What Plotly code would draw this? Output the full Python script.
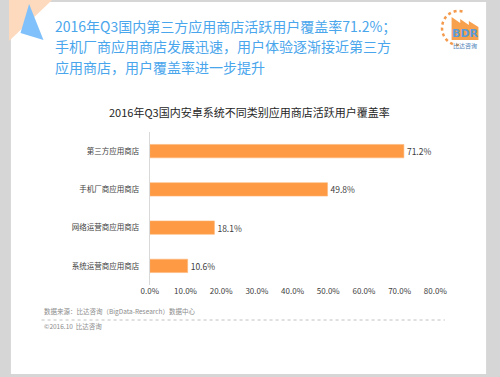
import numpy as np
import plotly.graph_objects as go

# ---- data ----
categories = ["第三方应用商店", "手机厂商应用商店", "网络运营商应用商店", "系统运营商应用商店"]
coverage = [71.2, 49.8, 18.1, 10.6]
tick_vals = [0, 10, 20, 30, 40, 50, 60, 70, 80]
tick_text = ["0.0%", "10.0%", "20.0%", "30.0%", "40.0%", "50.0%", "60.0%", "70.0%", "80.0%"]
value_labels = [f"{v:.1f}%" for v in coverage]

W, H = 500, 377
FONT = "Noto Sans CJK SC"


def px(x):
    return x / W


def py(y):
    return 1 - y / H


fig = go.Figure()
fig.add_trace(go.Bar(
    x=coverage, y=categories, orientation="h",
    marker=dict(color="#fd9a43", line=dict(color="#fdb77a", width=0.6)),
    width=0.35,
    text=value_labels, textposition="outside",
    textfont=dict(size=8.5, color="#404040", family=FONT),
    cliponaxis=False, hoverinfo="skip",
))

shapes = []
# outer frame: white card on gray border
shapes.append(dict(type="rect", xref="paper", yref="paper", x0=px(2), x1=px(498), y0=py(374), y1=py(2),
                   fillcolor="white", line=dict(width=0), layer="below"))
# peach corner triangle
shapes.append(dict(type="path", xref="paper", yref="paper",
                   path=f"M {px(0)},{py(0)} L {px(45)},{py(0)} L {px(0)},{py(41)} Z",
                   fillcolor="#fdd9bd", line=dict(width=0), layer="below"))
# blue triangle
shapes.append(dict(type="path", xref="paper", yref="paper",
                   path=f"M {px(21)},{py(4)} L {px(12)},{py(33)} L {px(36)},{py(40)} Z",
                   fillcolor="#80c1fb", line=dict(width=0), layer="below"))
# logo dotted arc
ang = np.linspace(np.radians(75), np.radians(280), 40)
cx, cy, r = 469, 28, 17
pts = [(cx + r * np.cos(a), cy - r * np.sin(a)) for a in ang]
path = "M " + " L ".join(f"{px(x):.5f},{py(y):.5f}" for x, y in pts)
shapes.append(dict(type="path", xref="paper", yref="paper", path=path,
                   line=dict(color="#f39a4c", width=2.5, dash="dot"), layer="below"))
# logo buildings
bld = [(462, 40), (462, 17), (471, 23), (471, 19), (480, 25), (480, 21), (490, 27), (490, 40)]
bpath = "M " + " L ".join(f"{px(x):.5f},{py(y):.5f}" for x, y in bld) + " Z"
shapes.append(dict(type="path", xref="paper", yref="paper", path=bpath,
                   fillcolor="#f7a04e", line=dict(width=0), layer="below"))
# dotted divider under source
shapes.append(dict(type="line", xref="paper", yref="paper", x0=px(34), x1=px(455), y0=py(320), y1=py(320),
                   line=dict(color="#b0b0b0", width=0.8, dash="dot")))

annotations = []
header = ["2016年Q3国内第三方应用商店活跃用户覆盖率71.2%；",
          "手机厂商应用商店发展迅速，用户体验逐渐接近第三方",
          "应用商店，用户覆盖率进一步提升"]
for i, line in enumerate(header):
    annotations.append(dict(text=line, xref="paper", yref="paper", x=px(47), y=py(25.5 + 20.5 * i),
                            xanchor="left", yanchor="middle", showarrow=False, borderpad=0,
                            font=dict(size=14, color="#4aa6ec", family=FONT)))
annotations.append(dict(text="2016年Q3国内安卓系统不同类别应用商店活跃用户覆盖率", xref="paper", yref="paper",
                        x=px(251), y=py(112), xanchor="center", yanchor="middle", showarrow=False,
                        font=dict(size=11, color="#262626", family=FONT)))
annotations.append(dict(text="数据来源：比达咨询（BigData-Research）数据中心", xref="paper", yref="paper",
                        x=px(34), y=py(311), xanchor="left", yanchor="middle", showarrow=False,
                        font=dict(size=6.5, color="#8c8c8c", family=FONT)))
annotations.append(dict(text="©2016.10  比达咨询", xref="paper", yref="paper",
                        x=px(34), y=py(326), xanchor="left", yanchor="middle", showarrow=False,
                        font=dict(size=6.5, color="#8c8c8c", family=FONT)))
# logo text
annotations.append(dict(text="<b>BDR</b>", xref="paper", yref="paper", x=px(476), y=py(34),
                        xanchor="center", yanchor="middle", showarrow=False,
                        font=dict(size=11, color="#5b9bd9", family="DejaVu Sans")))
annotations.append(dict(text="比达咨询", xref="paper", yref="paper", x=px(476), y=py(46),
                        xanchor="center", yanchor="middle", showarrow=False,
                        font=dict(size=6, color="#4d82b8", family=FONT)))

fig.update_layout(
    width=W, height=H,
    margin=dict(l=0, r=0, t=0, b=0),
    paper_bgcolor="#d6d6d6", plot_bgcolor="rgba(0,0,0,0)",
    showlegend=False,
    shapes=shapes, annotations=annotations,
    font=dict(family=FONT),
    xaxis=dict(domain=[px(147), px(445)], range=[0, 80], tickvals=tick_vals, ticktext=tick_text,
               showgrid=False, zeroline=False, showline=False, ticks="",
               tickfont=dict(size=8, color="#404040", family=FONT), fixedrange=True),
    yaxis=dict(domain=[py(285), py(132)], autorange="reversed", showgrid=False, zeroline=False,
               showline=True, linecolor="#d9d9d9", linewidth=1, ticks="", ticklabelstandoff=8,
               tickfont=dict(size=7.5, color="#404040", family=FONT), fixedrange=True),
)
fig.update_layout(bargap=0.65)

fig.write_html("out.html", config={"displayModeBar": False},
               post_script="document.body.style.margin='0';document.body.style.overflow='hidden';")
